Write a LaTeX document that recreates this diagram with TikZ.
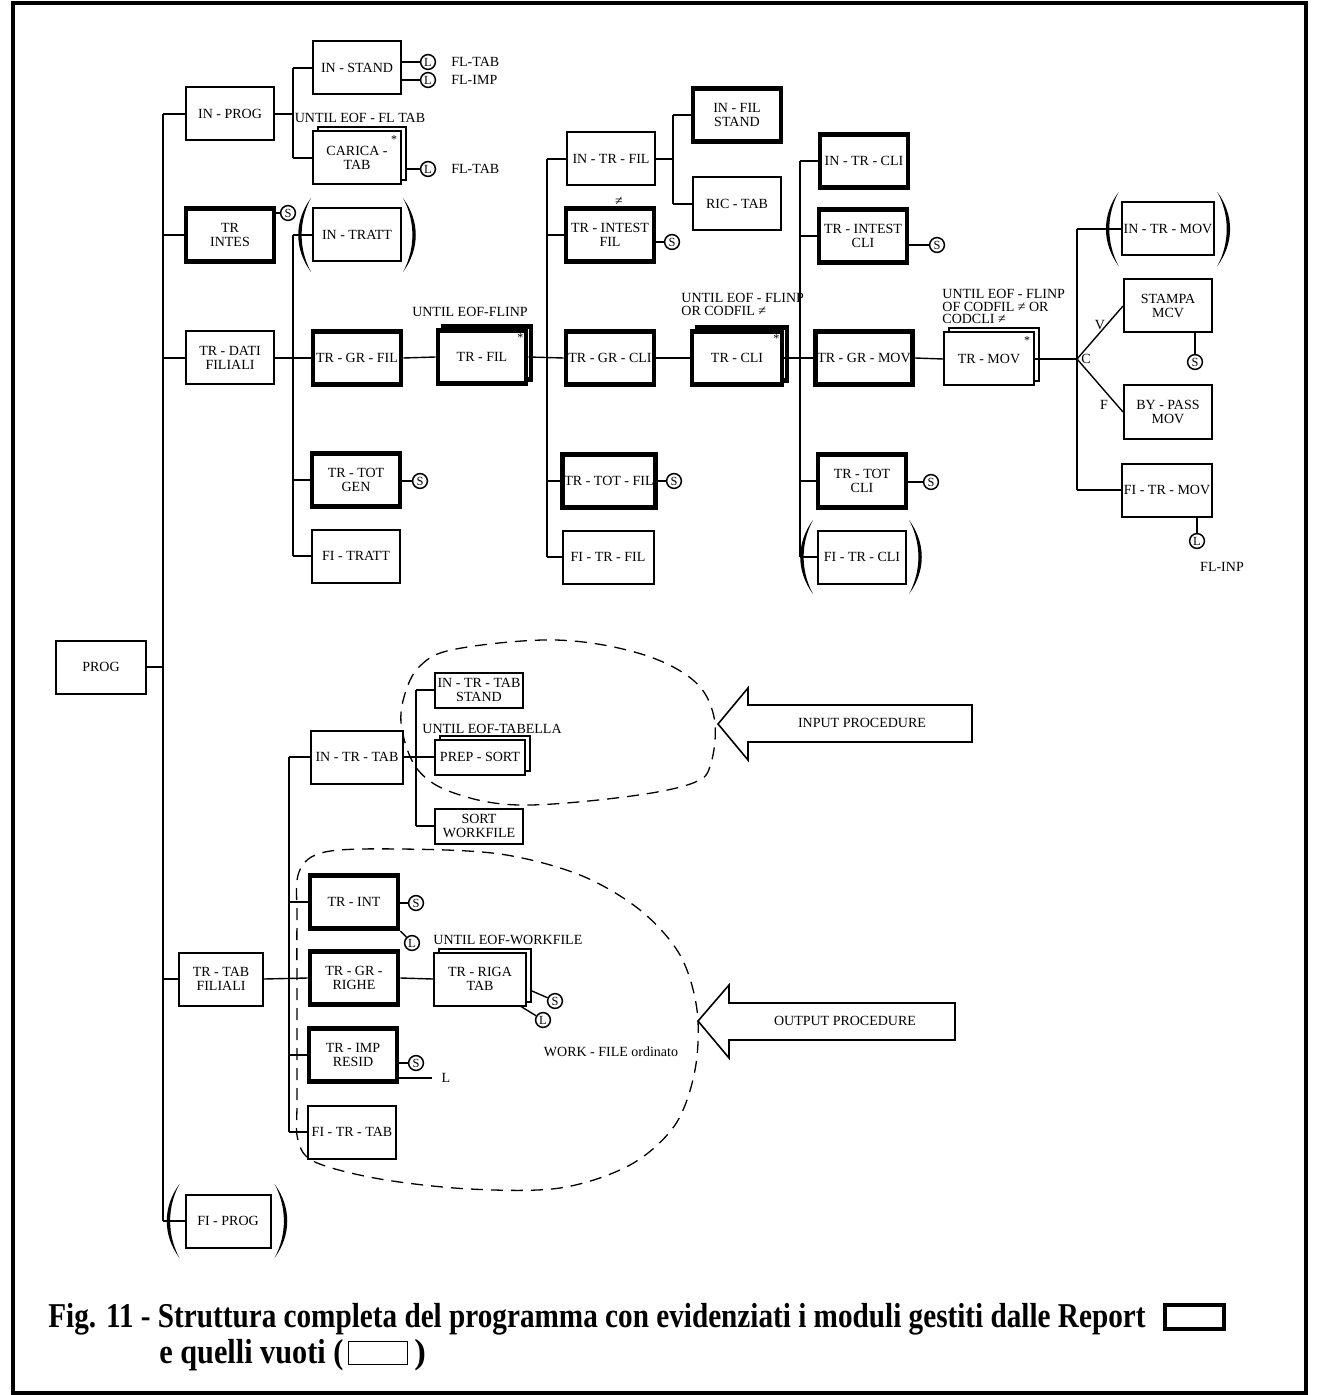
\documentclass[tikz,border=0pt]{standalone}
\usepackage{fontspec}
\setmainfont{Liberation Serif}
\usepackage{graphicx}
\usetikzlibrary{shadows}
\begin{document}
\begin{tikzpicture}[x=0.5pt,y=-0.5pt,
  lbl/.style={font=\fontsize{7}{6.3}\selectfont, inner sep=0pt, align=center},
  modbox/.style={draw, fill=white, rectangle, line width=1pt, inner sep=1pt, align=center,
    font=\fontsize{7}{7}\selectfont, minimum width=44pt, minimum height=26.5pt},
  report/.style={modbox, line width=2.4pt, minimum width=44pt, minimum height=26.5pt},
  multi/.style={general shadow={shadow xshift=2.5pt, shadow yshift=2pt, draw, fill=white, line width=1pt}},
  multirep/.style={general shadow={shadow xshift=2.5pt, shadow yshift=2pt, draw, fill=white, line width=2.4pt}},
  small/.style={minimum height=17.5pt},
  io/.style={circle, draw, fill=white, line width=0.75pt, inner sep=0pt, minimum size=7.4pt,
    font=\fontsize{6.2}{6.2}\selectfont},
  link/.style={line width=0.7pt},
  bound/.style={dash pattern=on 6pt off 4pt, line width=0.65pt},
  star/.style={font=\fontsize{6}{6}\selectfont, inner sep=0pt},
  lpar/.pic={\fill (0,-37) .. controls (-17,-14) and (-17,14) .. (0,37)
                  .. controls (-12.5,14) and (-12.5,-14) .. (0,-37) -- cycle;},
  rpar/.pic={\fill (0,-37) .. controls (17,-14) and (17,14) .. (0,37)
                  .. controls (12.5,14) and (12.5,-14) .. (0,-37) -- cycle;}
]
\useasboundingbox (0,0) rectangle (1318,1395);
\draw[line width=2pt] (13,3) rectangle (1306,1393);

% ---- dashed boundaries of the sort procedures ----
\draw[bound] plot[smooth cycle, tension=0.6] coordinates {
  (404,697) (420,666) (456,649) (555,640) (638,653) (693,680) (714,717)
  (711,763) (693,783) (624,797) (519,805) (454,793) (418,770) (402,730)};
\draw[bound] plot[smooth cycle, tension=0.55] coordinates {
  (297,1100) (297,1000) (297,920) (299,872) (325,852) (400,849) (500,854)
  (580,875) (640,910) (680,955) (697,1010) (695,1070) (675,1125) (630,1165)
  (560,1188) (470,1189) (380,1179) (315,1162) (298,1140)};

% ---- arrows for the procedures ----
\draw[line width=0.8pt, fill=white] (718,724) -- (748,688) -- (748,705) -- (972,705)
  -- (972,742) -- (748,742) -- (748,760) -- cycle;
\node[lbl] (inproc) at (862,723) {INPUT PROCEDURE};
\draw[line width=0.8pt, fill=white] (698,1021) -- (729,985) -- (729,1003) -- (955,1003)
  -- (955,1040) -- (729,1040) -- (729,1058) -- cycle;
\node[lbl] (outproc) at (845,1021) {OUTPUT PROCEDURE};

% ---- level 0 / 1 ----
\node[modbox, minimum width=45pt] (prog) at (101,667) {PROG};
\node[modbox] (inprog) at (230,114) {IN - PROG};
\node[report] (trintes) at (230,235) {TR\\INTES};
\node[modbox] (trdati) at (230,358) {TR - DATI\\FILIALI};
\node[modbox, minimum width=42pt] (trtab) at (221,979) {TR - TAB\\FILIALI};
\node[modbox, minimum width=42.5pt] (fiprog) at (228,1221) {FI - PROG};

% ---- IN-PROG ----
\node[modbox] (instand) at (357,68) {IN - STAND};
\node[modbox, multi] (carica) at (357,158) {CARICA -\\TAB};
\node[star] (carica-ast) at ([shift={(-8,9)}]carica.north east) {*};
\node[lbl] (u1) at (360,118) {UNTIL EOF - FL TAB};

% ---- TR-DATI FILIALI ----
\node[modbox] (intratt) at (357,235) {IN - TRATT};
\node[report] (trgrfil) at (357,358) {TR - GR - FIL};
\node[report] (trtotgen) at (356,480) {TR - TOT\\GEN};
\node[modbox] (fitratt) at (356,556) {FI - TRATT};
\node[report, multirep] (trfil) at (482,357) {TR - FIL};
\node[star] (trfil-ast) at ([shift={(-8,9)}]trfil.north east) {*};
\node[lbl] (u2) at (470,312) {UNTIL EOF-FLINP};

% ---- TR-FIL ----
\node[modbox] (intrfil) at (611,159) {IN - TR - FIL};
\node[report] (trintfil) at (610,235) {TR - INTEST\\FIL};
\node[lbl] (neq) at (619,201) {≠};
\node[report] (trgrcli) at (610,358) {TR - GR - CLI};
\node[report] (trtotfil) at (609,481) {TR - TOT - FIL};
\node[modbox, minimum width=45.5pt] (fitrfil) at (608,557) {FI - TR - FIL};
\node[report] (infilst) at (737,115) {IN - FIL\\STAND};
\node[modbox] (rictab) at (737,204) {RIC - TAB};
\node[report, multirep, minimum width=45pt] (trcli) at (737,358) {TR - CLI};
\node[star] (trcli-ast) at ([shift={(-8,9)}]trcli.north east) {*};
\node[lbl, anchor=north west, align=left] (u3) at (681,293) {UNTIL EOF - FLINP\\OR CODFIL ≠};

% ---- TR-CLI ----
\node[report] (intrcli) at (864,161) {IN - TR - CLI};
\node[report] (trintcli) at (863,236) {TR - INTEST\\CLI};
\node[report] (trgrmov) at (864,358) {TR - GR - MOV};
\node[report] (trtotcli) at (862,481) {TR - TOT\\CLI};
\node[modbox] (fitrcli) at (862,557) {FI - TR - CLI};
\node[modbox, multi, minimum width=45pt] (trmov) at (989,359) {TR - MOV};
\node[star] (trmov-ast) at ([shift={(-8,9)}]trmov.north east) {*};
\node[lbl, anchor=north west, align=left] (u4) at (942,289) {UNTIL EOF - FLINP\\OF CODFIL ≠ OR\\CODCLI ≠};

% ---- TR-MOV ----
\node[modbox] (intrmov) at (1168,229) {IN - TR - MOV};
\node[modbox] (stampa) at (1168,306) {STAMPA\\MCV};
\node[modbox] (bypass) at (1168,412) {BY - PASS\\MOV};
\node[modbox] (fitrmov) at (1167,490) {FI - TR - MOV};
\node[lbl] (cnd) at (1086,359) {C};
\node[lbl] (vtrue) at (1100,325) {V};
\node[lbl] (ffalse) at (1104,405) {F};
\node[lbl] (flinp) at (1222,567) {FL-INP};

% ---- TR-TAB FILIALI ----
\node[modbox, minimum width=46pt] (intrtab) at (357,757) {IN - TR - TAB};
\node[modbox, small] (intrtabst) at (479,690) {IN - TR - TAB\\STAND};
\node[modbox, small, multi, minimum width=45pt] (prepsort) at (480,757) {PREP - SORT};
\node[modbox, small] (sortwf) at (479,826) {SORT\\WORKFILE};
\node[lbl, anchor=west] (u5) at (422,729) {UNTIL EOF-TABELLA};
\node[report] (trint) at (354,902) {TR - INT};
\node[report] (trgrrig) at (354,978) {TR - GR -\\RIGHE};
\node[report] (trimp) at (353,1055) {TR - IMP\\RESID};
\node[modbox] (fitrtab) at (352,1132) {FI - TR - TAB};
\node[modbox, multi, minimum width=46pt] (trriga) at (480,979) {TR - RIGA\\TAB};
\node[lbl, anchor=west] (u6) at (433,940) {UNTIL EOF-WORKFILE};
\node[lbl] (wfile) at (611,1052) {WORK - FILE ordinato};

% ---- parentheses around empty modules ----
\pic at ([xshift=-0.5pt]intratt.west) {lpar};
\pic at ([xshift=0.5pt]intratt.east) {rpar};
\pic at ([xshift=-1pt]intrmov.west) {lpar};
\pic at ([xshift=1pt]intrmov.east) {rpar};
\pic at ([xshift=-2pt]fitrcli.west) {lpar};
\pic at ([xshift=1pt]fitrcli.east) {rpar};
\pic at ([xshift=-2.5pt]fiprog.west) {lpar};
\pic at ([xshift=1.5pt]fiprog.east) {rpar};

% ---- tree connectors ----
\coordinate (t0) at (163,0);
\coordinate (b1) at (293,0);
\coordinate (b3) at (547,0);
\coordinate (b4) at (673,0);
\coordinate (b5) at (800,0);
\coordinate (b6) at (1077,0);
\coordinate (b7) at (289,0);
\coordinate (b8) at (416,0);

\begin{scope}[link]
  \draw (prog.east) -- (prog.east -| t0);
  \draw (inprog.west -| t0) -- (fiprog.west -| t0);
  \foreach \n in {inprog,trintes,trdati,trtab,fiprog} \draw (\n.west -| t0) -- (\n.west);

  \draw (inprog.east) -- (inprog.east -| b1);
  \draw (instand.west -| b1) -- (carica.west -| b1);
  \foreach \n in {instand,carica} \draw (\n.west -| b1) -- (\n.west);

  \draw (trdati.east) -- (trgrfil.west);
  \draw (intratt.west -| b1) -- (fitratt.west -| b1);
  \foreach \n in {intratt,trtotgen,fitratt} \draw (\n.west -| b1) -- (\n.west);
  \draw (trgrfil.east) -- (trfil.west);

  \draw (trfil.east) -- (trgrcli.west);
  \draw (intrfil.west -| b3) -- (fitrfil.west -| b3);
  \foreach \n in {intrfil,trintfil,trtotfil,fitrfil} \draw (\n.west -| b3) -- (\n.west);

  \draw (intrfil.east) -- (intrfil.east -| b4);
  \draw (infilst.west -| b4) -- (rictab.west -| b4);
  \foreach \n in {infilst,rictab} \draw (\n.west -| b4) -- (\n.west);

  \draw (trgrcli.east) -- (trcli.west);
  \draw (trcli.east) -- (trgrmov.west);
  \draw (intrcli.west -| b5) -- (fitrcli.west -| b5);
  \foreach \n in {intrcli,trintcli,trtotcli,fitrcli} \draw (\n.west -| b5) -- (\n.west);

  \draw (trgrmov.east) -- (trmov.west);
  \draw (trmov.east) -- (trmov.east -| b6);
  \draw (intrmov.west -| b6) -- (fitrmov.west -| b6);
  \foreach \n in {intrmov,fitrmov} \draw (\n.west -| b6) -- (\n.west);
  \draw (trmov.east -| b6) -- (stampa.west);
  \draw (trmov.east -| b6) -- (bypass.west);

  \draw (trtab.east) -- (trgrrig.west);
  \draw (intrtab.west -| b7) -- (fitrtab.west -| b7);
  \foreach \n in {intrtab,trint,trimp,fitrtab} \draw (\n.west -| b7) -- (\n.west);
  \draw (trgrrig.east) -- (trriga.west);

  \draw (intrtab.east) -- (intrtab.east -| b8);
  \draw (intrtabst.west -| b8) -- (sortwf.west -| b8);
  \foreach \n in {intrtabst,prepsort,sortwf} \draw (\n.west -| b8) -- (\n.west);
\end{scope}

% ---- read (L) and print (S) markers ----
\node[io] (l1) at (428,62) {L};
\node[io] (l2) at (428,80) {L};
\node[io] (l3) at (428,169) {L};
\node[lbl, anchor=west] (f1) at (451,62) {FL-TAB};
\node[lbl, anchor=west] (f2) at (451,80) {FL-IMP};
\node[lbl, anchor=west] (f3) at (451,169) {FL-TAB};
\node[io] (s1) at (288,213) {S};
\node[io] (s2) at (420,481) {S};
\node[io] (s3) at (672,242) {S};
\node[io] (s4) at (674,481) {S};
\node[io] (s5) at (937,245) {S};
\node[io] (s6) at (931,482) {S};
\node[io] (s7) at (1195,362) {S};
\node[io] (l4) at (1197,541) {L};
\node[io] (s8) at (416,903) {S};
\node[io] (l5) at (412,943) {L};
\node[io] (s9) at (555,1001) {S};
\node[io] (l6) at (543,1020) {L};
\node[io] (s10) at (416,1063) {S};
\coordinate (lend) at (432,1078);
\node[lbl] (lbl-l) at (446,1078) {L};

\begin{scope}[link]
  \draw (instand.east |- l1) -- (l1);
  \draw (instand.east |- l2) -- (l2);
  \draw ([xshift=2.5pt]carica.east |- l3) -- (l3);
  \draw (trintes.east |- s1) -- (s1);
  \draw (trtotgen.east |- s2) -- (s2);
  \draw (trintfil.east |- s3) -- (s3);
  \draw (trtotfil.east |- s4) -- (s4);
  \draw (trintcli.east |- s5) -- (s5);
  \draw (trtotcli.east |- s6) -- (s6);
  \draw (s7 |- stampa.south) -- (s7);
  \draw (l4 |- fitrmov.south) -- (l4);
  \draw (trint.east |- s8) -- (s8);
  \draw (trint.south east) -- (l5);
  \draw ([shift={(5,12)}]trriga.east) -- (s9);
  \draw ([xshift=-3pt]trriga.south east) -- (l6);
  \draw (trimp.east |- s10) -- (s10);
  \draw (trimp.east |- lend) -- (lend);
\end{scope}

% ---- caption ----
\node[anchor=base west, inner sep=0pt, font=\bfseries\fontsize{17.4}{20}\selectfont] (cap1) at (48,1327)
  {\resizebox{548.5pt}{\height}{Fig. 11 - Struttura completa del programma con evidenziati i moduli gestiti dalle Report}};
\node[draw, line width=2pt, minimum width=29.5pt, minimum height=12pt, inner sep=0pt] (keyrep) at (1194.5,1317) {};
\node[anchor=base west, inner sep=0pt, font=\bfseries\fontsize{17.4}{20}\selectfont] (cap2) at (159,1363)
  {\resizebox{92pt}{\height}{e quelli vuoti (}};
\node[draw, line width=0.8pt, minimum width=29.5pt, minimum height=11.5pt, inner sep=0pt] (keyempty) at (378,1353) {};
\node[anchor=base west, inner sep=0pt, font=\bfseries\fontsize{17.4}{20}\selectfont] (cap3) at (414,1363) {)};
\end{tikzpicture}
\end{document}
